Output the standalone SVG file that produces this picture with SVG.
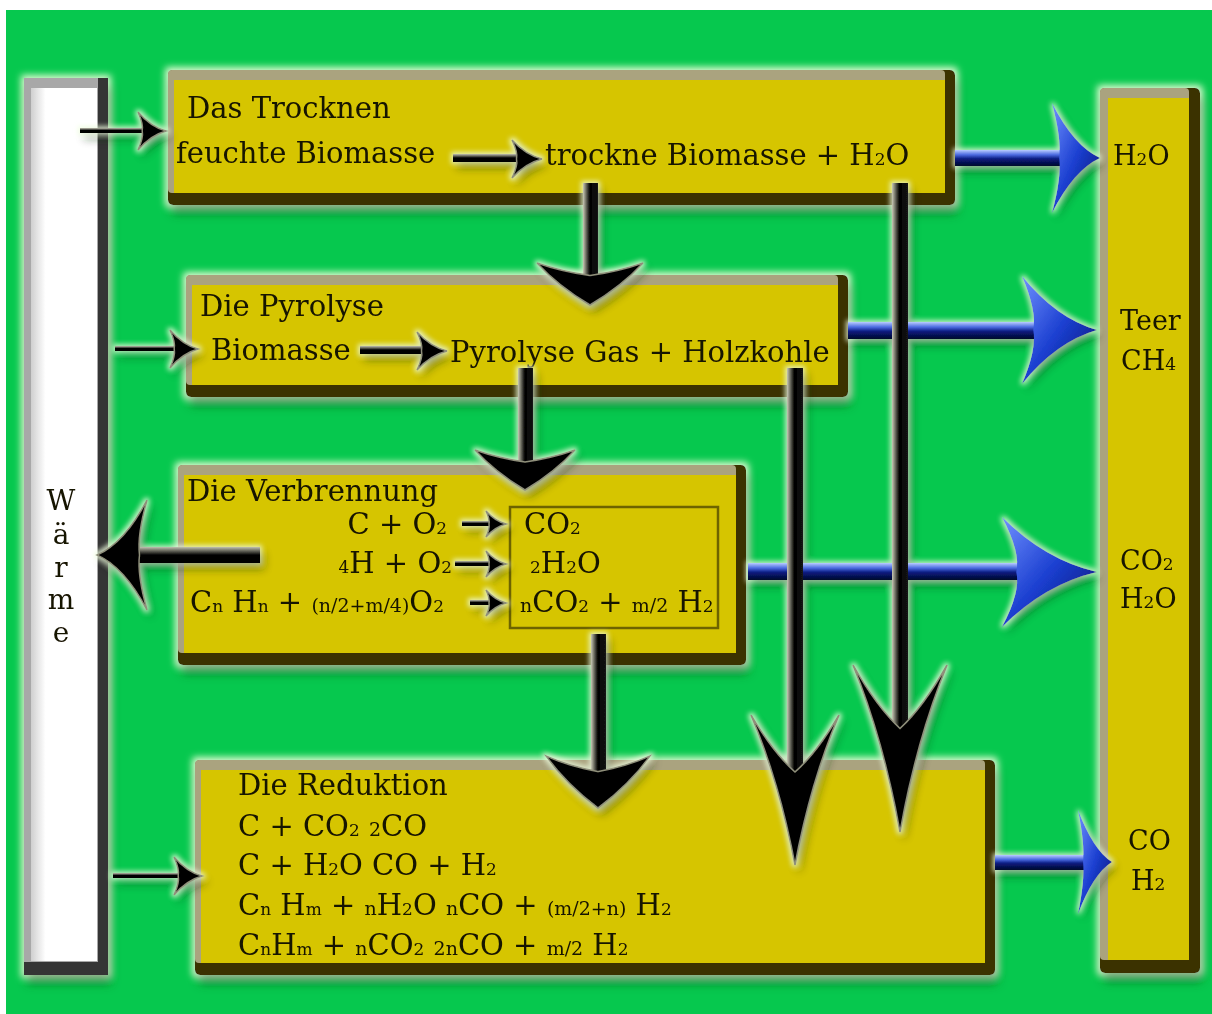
<svg xmlns="http://www.w3.org/2000/svg" width="1212" height="1014" viewBox="0 0 1212 1014">
<defs>
<style>
.t{font-family:"DejaVu Serif","Liberation Serif",serif;font-size:29px;fill:#171200}
.r{font-size:27px}
.w{font-size:28px}
.s{font-size:17px}
.m{font-size:19px}
.base{fill:#3a3100}
.bev{fill:#aaa37f}
.face{fill:#d6c500}
.shV{fill:url(#gV)}
.shH{fill:url(#gH)}
.shB{fill:url(#gB)}
.hB{fill:url(#gHB)}
.hK{fill:#040404;stroke:#8f8f7a;stroke-width:1.5}
</style>
<linearGradient id="gV" x1="0" y1="0" x2="1" y2="0">
<stop offset="0" stop-color="#c9c9b5"/><stop offset="0.25" stop-color="#5a5a50"/><stop offset="0.45" stop-color="#000"/><stop offset="1" stop-color="#151515"/>
</linearGradient>
<linearGradient id="gH" x1="0" y1="0" x2="0" y2="1">
<stop offset="0" stop-color="#c0c0b0"/><stop offset="0.3" stop-color="#505048"/><stop offset="0.5" stop-color="#000"/><stop offset="1" stop-color="#000"/>
</linearGradient>
<linearGradient id="gB" x1="0" y1="0" x2="0" y2="1">
<stop offset="0" stop-color="#b8ccff"/><stop offset="0.3" stop-color="#4a6ae0"/><stop offset="0.55" stop-color="#0b1c80"/><stop offset="1" stop-color="#00062a"/>
</linearGradient>
<linearGradient id="gHB" x1="0" y1="0" x2="1" y2="1">
<stop offset="0" stop-color="#7090ff"/><stop offset="0.5" stop-color="#1b3fd0"/><stop offset="1" stop-color="#06106a"/>
</linearGradient>
<linearGradient id="gW" x1="0" y1="0" x2="1" y2="0">
<stop offset="0" stop-color="#cfcfcf"/><stop offset="0.22" stop-color="#ffffff"/><stop offset="1" stop-color="#ffffff"/>
</linearGradient>
<filter id="glow" filterUnits="userSpaceOnUse" x="0" y="0" width="1212" height="1014">
<feMorphology in="SourceAlpha" operator="dilate" radius="3" result="d"/>
<feGaussianBlur in="d" stdDeviation="3.5" result="b"/>
<feFlood flood-color="#eaffd8" flood-opacity="0.95"/>
<feComposite in2="b" operator="in" result="g"/>
<feOffset in="SourceAlpha" dx="3" dy="9" result="o"/>
<feGaussianBlur in="o" stdDeviation="5" result="ob"/>
<feFlood flood-color="#00501a" flood-opacity="0.55"/>
<feComposite in2="ob" operator="in" result="sh"/>
<feMerge><feMergeNode in="g"/><feMergeNode in="sh"/><feMergeNode in="SourceGraphic"/></feMerge>
</filter>
<filter id="aglow" filterUnits="userSpaceOnUse" x="0" y="0" width="1212" height="1014">
<feMorphology in="SourceAlpha" operator="dilate" radius="1.5" result="d"/>
<feGaussianBlur in="d" stdDeviation="2.5" result="b"/>
<feFlood flood-color="#f0ffe0" flood-opacity="0.8"/>
<feComposite in2="b" operator="in" result="g"/>
<feOffset in="SourceAlpha" dx="4" dy="6" result="o"/>
<feGaussianBlur in="o" stdDeviation="4" result="ob"/>
<feFlood flood-color="#003010" flood-opacity="0.5"/>
<feComposite in2="ob" operator="in" result="sh"/>
<feMerge><feMergeNode in="g"/><feMergeNode in="sh"/><feMergeNode in="SourceGraphic"/></feMerge>
</filter>
<path id="headA" vector-effect="non-scaling-stroke" d="M0,0 Q-0.55,-0.22 -1,-1 Q-0.8,-0.35 -0.85,0 Q-0.8,0.35 -1,1 Q-0.55,0.22 0,0Z"/>
<path id="headB" vector-effect="non-scaling-stroke" d="M0,0 Q-0.55,-0.35 -1,-1 Q-0.75,-0.5 -0.62,0 Q-0.75,0.5 -1,1 Q-0.55,0.35 0,0Z"/>
<path id="headC" vector-effect="non-scaling-stroke" d="M0,0 Q-0.45,-0.6 -1,-1 Q-0.8,-0.55 -0.7,0 Q-0.8,0.55 -1,1 Q-0.45,0.6 0,0Z"/>
</defs>

<rect x="0" y="0" width="1212" height="1014" fill="#ffffff"/>
<rect x="6" y="10" width="1206" height="1004" fill="#06c84e"/>

<g id="waerme" filter="url(#glow)">
<rect x="24" y="78" width="84" height="897" fill="#353535"/>
<rect x="24" y="78" width="74" height="884" fill="#a8a8a8"/>
<rect x="31" y="88" width="66" height="873" fill="url(#gW)"/>
<text class="t w" text-anchor="middle"><tspan x="61" y="510">W</tspan><tspan x="61" y="544">ä</tspan><tspan x="61" y="577">r</tspan><tspan x="61" y="609">m</tspan><tspan x="61" y="642">e</tspan></text>
</g>

<g id="trocknen" filter="url(#glow)">
<rect class="base" x="168" y="70" width="787" height="135" rx="5"/>
<rect class="bev" x="168" y="70" width="777" height="123" rx="4"/>
<rect class="face" x="174" y="80" width="771" height="113"/>
<text class="t" x="187" y="118">Das Trocknen</text>
<text class="t" x="176" y="163">feuchte Biomasse</text>
<text class="t" x="545" y="165">trockne Biomasse + H<tspan class="s">2</tspan>O</text>
</g>

<g id="pyrolyse" filter="url(#glow)">
<rect class="base" x="186" y="275" width="662" height="122" rx="5"/>
<rect class="bev" x="186" y="275" width="652" height="110" rx="4"/>
<rect class="face" x="192" y="285" width="646" height="100"/>
<text class="t" x="200" y="316">Die Pyrolyse</text>
<text class="t" x="211" y="360">Biomasse</text>
<text class="t" x="450" y="362">Pyrolyse Gas + Holzkohle</text>
</g>

<g id="verbrennung" filter="url(#glow)">
<rect class="base" x="178" y="465" width="568" height="200" rx="5"/>
<rect class="bev" x="178" y="465" width="558" height="188" rx="4"/>
<rect class="face" x="184" y="475" width="552" height="178"/>
<rect class="face" x="510" y="507" width="208" height="121" stroke="#6d6400" stroke-width="2.5"/>
<text class="t" x="187" y="501">Die Verbrennung</text>
<text class="t" x="447" y="534" text-anchor="end">C + O<tspan class="s">2</tspan></text>
<text class="t" x="452" y="573" text-anchor="end"><tspan class="s">4</tspan>H + O<tspan class="s">2</tspan></text>
<text class="t" x="190" y="612">C<tspan class="s">n</tspan> H<tspan class="s">n</tspan> + <tspan class="m">(n/2+m/4)</tspan>O<tspan class="s">2</tspan></text>
<text class="t" x="524" y="534">CO<tspan class="s">2</tspan></text>
<text class="t" x="530" y="573"><tspan class="s">2</tspan>H<tspan class="s">2</tspan>O</text>
<text class="t" x="520" y="612"><tspan class="m">n</tspan>CO<tspan class="s">2</tspan> + <tspan class="m">m/2</tspan> H<tspan class="s">2</tspan></text>
</g>

<g id="reduktion" filter="url(#glow)">
<rect class="base" x="195" y="760" width="800" height="215" rx="5"/>
<rect class="bev" x="195" y="760" width="790" height="203" rx="4"/>
<rect class="face" x="201" y="770" width="784" height="193"/>
<text class="t" x="238" y="795">Die Reduktion</text>
<text class="t" x="238" y="836">C + CO<tspan class="s">2</tspan> <tspan class="m">2</tspan>CO</text>
<text class="t" x="238" y="875">C + H<tspan class="s">2</tspan>O CO + H<tspan class="s">2</tspan></text>
<text class="t" x="238" y="915">C<tspan class="s">n</tspan> H<tspan class="s">m</tspan> + <tspan class="m">n</tspan>H<tspan class="s">2</tspan>O <tspan class="m">n</tspan>CO + <tspan class="m">(m/2+n)</tspan> H<tspan class="s">2</tspan></text>
<text class="t" x="238" y="955">C<tspan class="s">n</tspan>H<tspan class="s">m</tspan> + <tspan class="m">n</tspan>CO<tspan class="s">2</tspan> <tspan class="m">2n</tspan>CO + <tspan class="m">m/2</tspan> H<tspan class="s">2</tspan></text>
</g>

<g id="produkte" filter="url(#glow)">
<rect class="base" x="1100" y="88" width="100" height="885" rx="5"/>
<rect class="bev" x="1100" y="88" width="89" height="872" rx="4"/>
<rect class="face" x="1108" y="98" width="81" height="862"/>
<text class="t r" x="1113" y="165">H<tspan class="s">2</tspan>O</text>
<text class="t r" x="1120" y="330">Teer</text>
<text class="t r" x="1121" y="370">CH<tspan class="s">4</tspan></text>
<text class="t r" x="1120" y="570">CO<tspan class="s">2</tspan></text>
<text class="t r" x="1120" y="608">H<tspan class="s">2</tspan>O</text>
<text class="t r" x="1128" y="850">CO</text>
<text class="t r" x="1131" y="890">H<tspan class="s">2</tspan></text>
</g>

<g id="connectors" filter="url(#aglow)">
<!-- blue product arrows -->
<rect class="shB" x="955" y="150" width="105" height="16"/>
<use href="#headA" class="hB" transform="translate(1100,158) scale(48,55)"/>
<rect class="shB" x="848" y="322" width="190" height="17"/>
<use href="#headA" class="hB" transform="translate(1097,330) scale(75,54)"/>
<rect class="shB" x="748" y="563" width="272" height="17"/>
<use href="#headA" class="hB" transform="translate(1097,572) scale(95,55)"/>
<rect class="shB" x="995" y="855" width="91" height="15"/>
<use href="#headA" class="hB" transform="translate(1112,862) scale(34,52)"/>
<!-- heat input arrows -->
<rect class="shH" x="80" y="128" width="70" height="5"/>
<use href="#headA" class="hK" transform="translate(166,131) scale(28,19)"/>
<rect class="shH" x="115" y="346" width="70" height="5"/>
<use href="#headA" class="hK" transform="translate(198,349) scale(28,19)"/>
<rect class="shH" x="113" y="873" width="75" height="5"/>
<use href="#headA" class="hK" transform="translate(202,876) scale(28,19)"/>
<!-- reaction arrows -->
<rect class="shH" x="453" y="154" width="70" height="8"/>
<use href="#headA" class="hK" transform="translate(542,159) scale(30,19)"/>
<rect class="shH" x="360" y="346" width="70" height="8"/>
<use href="#headA" class="hK" transform="translate(447,351) scale(30,19)"/>
<rect class="shH" x="462" y="521" width="30" height="5"/>
<use href="#headA" class="hK" transform="translate(506,524) scale(20,13)"/>
<rect class="shH" x="455" y="561" width="38" height="5"/>
<use href="#headA" class="hK" transform="translate(506,564) scale(20,13)"/>
<rect class="shH" x="470" y="600" width="22" height="5"/>
<use href="#headA" class="hK" transform="translate(506,603) scale(20,13)"/>
<!-- heat output arrow -->
<rect class="shH" x="130" y="547" width="130" height="16"/>
<use href="#headA" class="hK" transform="translate(97,555) rotate(180) scale(50,55)"/>
<!-- downward process arrows -->
<rect class="shV" x="583" y="183" width="15" height="100"/>
<use href="#headC" class="hK" transform="translate(590,305) rotate(90) scale(42,53)"/>
<rect class="shV" x="518" y="368" width="15" height="100"/>
<use href="#headC" class="hK" transform="translate(525,490) rotate(90) scale(40,50)"/>
<rect class="shV" x="591" y="634" width="15" height="150"/>
<use href="#headC" class="hK" transform="translate(598,808) rotate(90) scale(52,52)"/>
<rect class="shV" x="787" y="368" width="16" height="407"/>
<use href="#headB" class="hK" transform="translate(795,865) rotate(90) scale(150,44)"/>
<rect class="shV" x="892" y="183" width="16" height="547"/>
<use href="#headB" class="hK" transform="translate(900,832) rotate(90) scale(167,47)"/>
</g>
</svg>
